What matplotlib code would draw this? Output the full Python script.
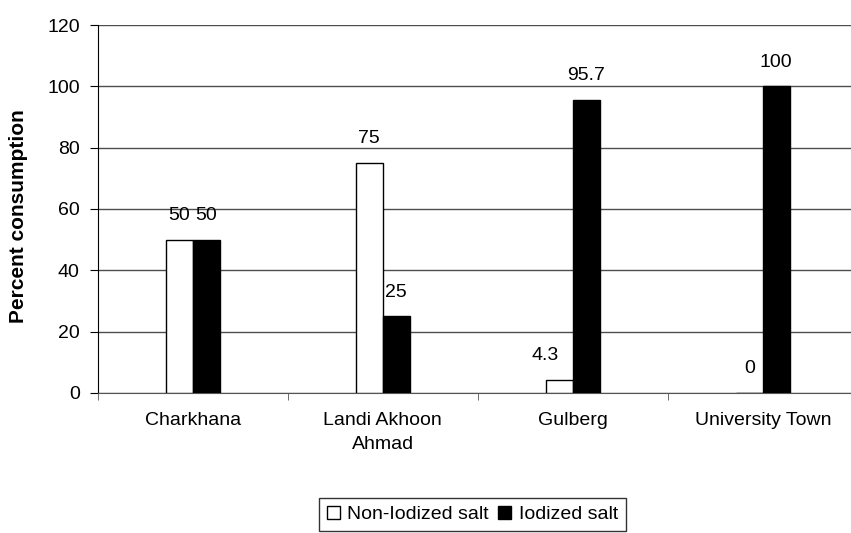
import matplotlib
matplotlib.use("Agg")
import matplotlib.pyplot as plt
import numpy as np

categories = ["Charkhana", "Landi Akhoon\nAhmad", "Gulberg", "University Town"]
non_iodized = [50, 75, 4.3, 0]
iodized = [50, 25, 95.7, 100]
value_labels_non = ["50", "75", "4.3", "0"]
value_labels_iod = ["50", "25", "95.7", "100"]
yticks = [0, 20, 40, 60, 80, 100, 120]

plt.rcParams["font.family"] = ["Liberation Sans", "DejaVu Sans"]

fig = plt.figure(figsize=(8.51, 5.33), dpi=100)
ax = fig.add_axes([0.115, 0.263, 0.893, 0.69])

x = np.arange(len(categories))
w = 0.142
b1 = ax.bar(x - w / 2, non_iodized, w, color="white", edgecolor="black", linewidth=1.0, zorder=3,
            label="Non-Iodized salt")
b2 = ax.bar(x + w / 2, iodized, w, color="black", edgecolor="black", linewidth=1.0, zorder=3,
            label="Iodized salt")

# a short bar's label is nudged left so it clears the tall neighbour
nudge_px = {2: -14}
for i, (xi, v, t) in enumerate(zip(x - w / 2, non_iodized, value_labels_non)):
    ax.annotate(t, (xi, v + 6.4), xytext=(nudge_px.get(i, 0) * 0.72, 0), textcoords="offset points",
                ha="center", va="baseline", fontsize=14)
for xi, v, t in zip(x + w / 2, iodized, value_labels_iod):
    ax.text(xi, v + 6.4, t, ha="center", va="baseline", fontsize=14)

ax.set_ylim(0, 120)
ax.set_yticks(yticks)
ax.set_xlim(-0.5, len(categories) - 0.5)
ax.set_xticks(x)
ax.set_xticklabels(categories, fontsize=14, linespacing=1.5)
ax.set_xticks(np.arange(len(categories) + 1) - 0.5, minor=True)
ax.tick_params(axis="x", which="major", length=0, pad=14)
ax.tick_params(axis="x", which="minor", length=5, color="#555555", direction="out")
ax.tick_params(axis="y", labelsize=14, length=6, pad=7, direction="out")

ax.yaxis.grid(True, color="#4d4d4d", linewidth=1)
ax.set_axisbelow(True)
for s in ["top", "right"]:
    ax.spines[s].set_visible(False)
ax.spines["left"].set_color("black")
ax.spines["bottom"].set_color("#555555")

ax.set_ylabel("Percent consumption", fontsize=15, fontweight="bold")
ax.yaxis.set_label_coords(-0.092, 0.481)

leg = fig.legend(handles=[b1, b2], loc="upper center", bbox_to_anchor=(0.555, 0.0657), ncol=2,
                 fontsize=14, frameon=True, fancybox=False, edgecolor="black",
                 handlelength=0.67, handleheight=0.67, handletextpad=0.4, columnspacing=0.45,
                 borderpad=0.4, borderaxespad=0.0)
leg.get_frame().set_linewidth(1)

fig.savefig("out.png", dpi=100)
